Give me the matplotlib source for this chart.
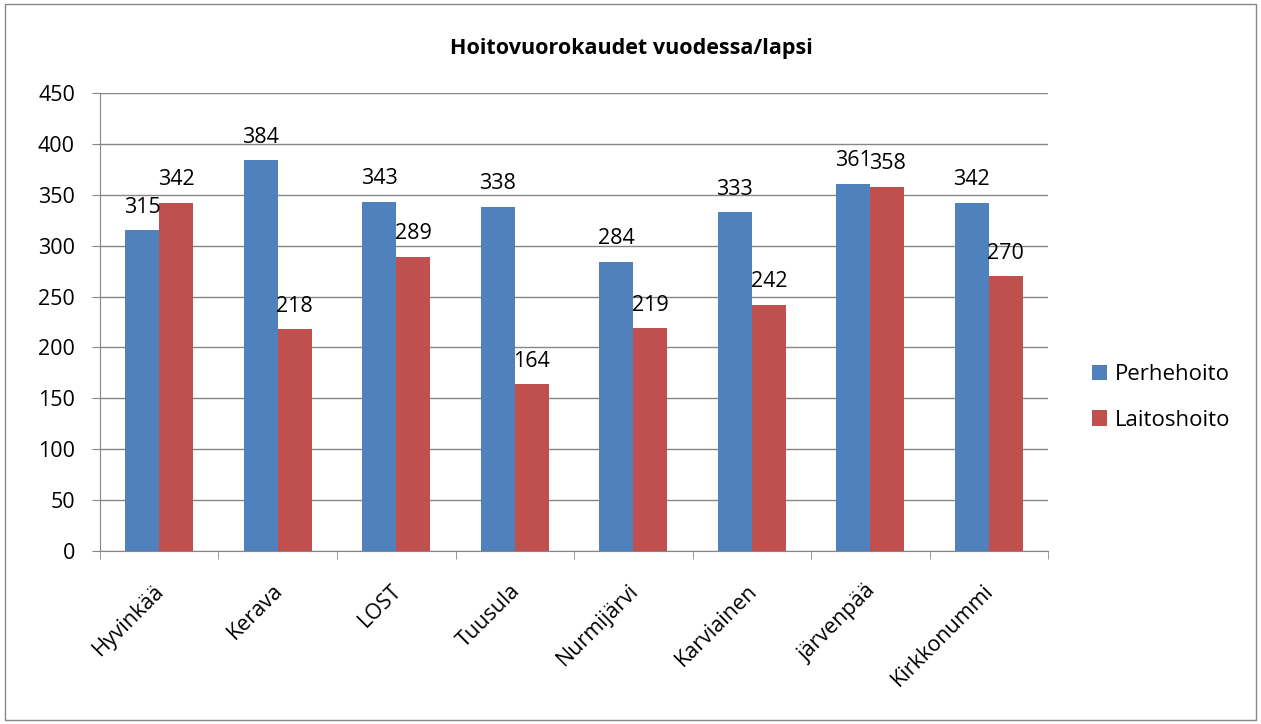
import matplotlib.pyplot as plt
import numpy as np
from matplotlib.patches import Rectangle
from matplotlib.transforms import ScaledTranslation

# chart data
municipalities = ["Hyvinkää", "Kerava", "LOST", "Tuusula", "Nurmijärvi",
                  "Karviainen", "järvenpää", "Kirkkonummi"]
perhehoito = [315, 384, 343, 338, 284, 333, 361, 342]
laitoshoito = [342, 218, 289, 164, 219, 242, 358, 270]
y_ticks = [0, 50, 100, 150, 200, 250, 300, 350, 400, 450]

BLUE = "#4f81bd"
RED = "#c0504d"
GRID = "#868686"

plt.rcParams["font.family"] = ["Open Sans", "DejaVu Sans"]

fig = plt.figure(figsize=(12.61, 7.24), dpi=100)
fig.patches.append(Rectangle((0.004, 0.006), 0.992, 0.988, transform=fig.transFigure,
                             fill=False, edgecolor="#868686", linewidth=1.0))

ax = fig.add_axes([0.0793, 0.239, 0.7518, 0.6326])

x = np.arange(len(municipalities))
w = 0.287
b1 = ax.bar(x - w / 2, perhehoito, width=w, color=BLUE, label="Perhehoito", zorder=3)
b2 = ax.bar(x + w / 2, laitoshoito, width=w, color=RED, label="Laitoshoito", zorder=3)

for bars in (b1, b2):
    for rect in bars:
        h = rect.get_height()
        ax.annotate(f"{h:.0f}", (rect.get_x() + rect.get_width() / 2, h),
                    textcoords="offset points", xytext=(0, 9), ha="center", va="bottom",
                    fontsize=15.5, color="black", zorder=4)

ax.set_xlim(-0.5, len(municipalities) - 0.5)
ax.set_ylim(0, 450)
ax.set_yticks(y_ticks)
ax.tick_params(axis="y", labelsize=15.5, length=6, color=GRID, pad=12)
ax.yaxis.grid(True, color=GRID, linewidth=1.0, zorder=0)

ax.set_xticks(x)
ax.set_xticklabels(municipalities, rotation=45, ha="right", va="top",
                   rotation_mode="anchor", fontsize=15.5)
ax.tick_params(axis="x", length=0, pad=21)
shift = ScaledTranslation(-4 / 72, 0, fig.dpi_scale_trans)
for lbl in ax.get_xticklabels():
    lbl.set_transform(lbl.get_transform() + shift)
ax.set_xticks(np.arange(len(municipalities) + 1) - 0.5, minor=True)
ax.tick_params(axis="x", which="minor", length=6, color=GRID)

for side in ("top", "right"):
    ax.spines[side].set_visible(False)
for side in ("left", "bottom"):
    ax.spines[side].set_color(GRID)

fig.text(0.501, 1 - 54 / 724, "Hoitovuorokaudet vuodessa/lapsi", ha="center", va="baseline",
         fontsize=15.5, fontweight="bold")

fig.legend(handles=[b1, b2], loc="center left", bbox_to_anchor=(1092 / 1261, 1 - 397.5 / 724),
           frameon=False, fontsize=16, borderpad=0, borderaxespad=0,
           handlelength=0.68, handleheight=0.68, labelspacing=1.1, handletextpad=0.35)

fig.savefig("out.png", dpi=100)
